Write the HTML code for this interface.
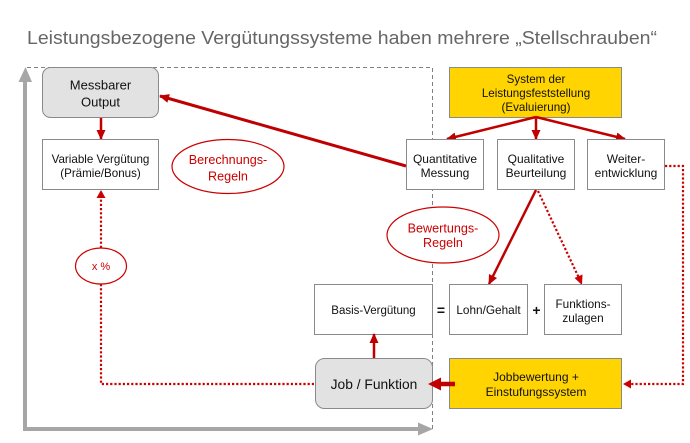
<!DOCTYPE html>
<html><head><meta charset="utf-8"><style>
html,body{margin:0;padding:0;background:#fff;}
svg{display:block;font-family:"Liberation Sans",Arial,sans-serif;}
</style></head><body>
<svg width="690" height="443" viewBox="0 0 690 443" xmlns="http://www.w3.org/2000/svg">
<defs>
<marker id="a" markerUnits="userSpaceOnUse" markerWidth="10" markerHeight="10" refX="9" refY="5" orient="auto"><path d="M0,0.5 L10,5 L0,9.5 z" fill="#c00000"/></marker>
</defs>
<rect width="690" height="443" fill="#fff"/>
<text x="27" y="44" font-size="18" fill="#666" textLength="630" lengthAdjust="spacingAndGlyphs">Leistungsbezogene Vergütungssysteme haben mehrere „Stellschrauben“</text>

<!-- dashed frame -->
<path d="M27,67.5 H432.5 V430" fill="none" stroke="#808080" stroke-width="1" stroke-dasharray="4 3"/>

<!-- axes -->
<line x1="25" y1="80" x2="25" y2="431" stroke="#a6a6a6" stroke-width="4"/>
<polygon points="18.5,82 25.5,67 32,82" fill="#a6a6a6"/>
<line x1="23" y1="429" x2="420" y2="429" stroke="#a6a6a6" stroke-width="4"/>
<polygon points="418,422.5 433,429 418,435.5" fill="#a6a6a6"/>

<!-- Messbarer Output -->
<rect x="42.5" y="67.5" width="116" height="50" rx="8" fill="#e1e2e1" stroke="#8a8a8a"/>
<text x="100.5" y="89.5" font-size="13" text-anchor="middle" fill="#111">Messbarer</text>
<text x="100.5" y="106.5" font-size="13" text-anchor="middle" fill="#111">Output</text>
<line x1="101" y1="118" x2="101" y2="139" stroke="#c00000" stroke-width="2.5" marker-end="url(#a)"/>

<!-- Variable Verguetung -->
<rect x="42.5" y="139.5" width="116" height="50" fill="#fff" stroke="#8a8a8a"/>
<text x="100.5" y="163" font-size="11.6" text-anchor="middle" fill="#111">Variable Vergütung</text>
<text x="100.5" y="177" font-size="11.6" text-anchor="middle" fill="#111">(Prämie/Bonus)</text>

<!-- Berechnungs-Regeln -->
<ellipse cx="228" cy="166.5" rx="56" ry="27" fill="#fff" stroke="#cc0000" stroke-width="1.2"/>
<text x="228" y="164" font-size="12.6" text-anchor="middle" fill="#cc0000">Berechnungs-</text>
<text x="228" y="180.5" font-size="12.6" text-anchor="middle" fill="#cc0000">Regeln</text>

<!-- dotted x% path -->
<path d="M101,248 V198" stroke="#cc0000" stroke-width="2.2" stroke-dasharray="2.2 2" fill="none"/>
<polygon points="96.5,198 101,190 105.5,198" fill="#cc0000"/>
<path d="M101,284 V384 H315" stroke="#cc0000" stroke-width="2.2" stroke-dasharray="2.2 2" fill="none"/>
<ellipse cx="101" cy="266" rx="25.5" ry="18" fill="#fff" stroke="#cc0000" stroke-width="1.2"/>
<text x="101" y="270" font-size="11" text-anchor="middle" fill="#cc0000">x %</text>

<!-- long arrow Quantitative -> Messbarer -->
<line x1="406" y1="166" x2="160" y2="96" stroke="#c00000" stroke-width="3" marker-end="url(#a)"/>

<!-- System der Leistungsfeststellung -->
<rect x="449.5" y="67.5" width="172" height="50" fill="#ffd400" stroke="#8a8a8a"/>
<text x="536" y="83" font-size="11.6" text-anchor="middle" fill="#111">System der</text>
<text x="536" y="97" font-size="11.6" text-anchor="middle" fill="#111">Leistungsfeststellung</text>
<text x="536" y="111" font-size="11.6" text-anchor="middle" fill="#111">(Evaluierung)</text>

<line x1="536" y1="117" x2="447" y2="139" stroke="#c00000" stroke-width="2.5" marker-end="url(#a)"/>
<line x1="536" y1="117" x2="536" y2="139" stroke="#c00000" stroke-width="2.5" marker-end="url(#a)"/>
<line x1="536" y1="117" x2="625" y2="139" stroke="#c00000" stroke-width="2.5" marker-end="url(#a)"/>

<!-- Quantitative / Qualitative / Weiter -->
<rect x="406.5" y="139.5" width="77" height="50" fill="#fff" stroke="#8a8a8a"/>
<text x="445" y="163" font-size="12" text-anchor="middle" fill="#111">Quantitative</text>
<text x="445" y="177" font-size="12" text-anchor="middle" fill="#111">Messung</text>

<rect x="497.5" y="139.5" width="77" height="50" fill="#fff" stroke="#8a8a8a"/>
<text x="536" y="163" font-size="12" text-anchor="middle" fill="#111">Qualitative</text>
<text x="536" y="177" font-size="12" text-anchor="middle" fill="#111">Beurteilung</text>

<rect x="587.5" y="139.5" width="77" height="50" fill="#fff" stroke="#8a8a8a"/>
<text x="626" y="163" font-size="12" text-anchor="middle" fill="#111">Weiter-</text>
<text x="626" y="177" font-size="12" text-anchor="middle" fill="#111">entwicklung</text>

<!-- Weiter dotted to Jobbewertung -->
<path d="M665,166 H683 V384 H631" stroke="#cc0000" stroke-width="2.2" stroke-dasharray="2.2 2" fill="none"/>
<polygon points="631,379.5 623,384 631,388.5" fill="#cc0000"/>

<!-- Bewertungs-Regeln -->
<ellipse cx="443" cy="235" rx="56" ry="28" fill="#fff" stroke="#cc0000" stroke-width="1.2"/>
<text x="443" y="232.5" font-size="12.6" text-anchor="middle" fill="#cc0000">Bewertungs-</text>
<text x="443" y="247" font-size="12.6" text-anchor="middle" fill="#cc0000">Regeln</text>

<!-- Qualitative -> Lohn / Funktionszulagen -->
<line x1="536" y1="190" x2="489" y2="284" stroke="#c00000" stroke-width="2.5" marker-end="url(#a)"/>
<path d="M538,191 L578.5,277" stroke="#cc0000" stroke-width="2.2" stroke-dasharray="2.2 2" fill="none"/>
<polygon points="574.5,278 582,285 582.5,274.5" fill="#cc0000"/>

<!-- Basis row -->
<rect x="314.5" y="284.5" width="118" height="50" fill="#fff" stroke="#8a8a8a"/>
<text x="373.5" y="314" font-size="11.5" text-anchor="middle" fill="#111">Basis-Vergütung</text>
<text x="441" y="315" font-size="14" font-weight="bold" text-anchor="middle" fill="#111">=</text>
<rect x="449.5" y="284.5" width="78" height="50" fill="#fff" stroke="#8a8a8a"/>
<text x="488.5" y="314" font-size="11.8" text-anchor="middle" fill="#111">Lohn/Gehalt</text>
<text x="536.5" y="315" font-size="14" font-weight="bold" text-anchor="middle" fill="#111">+</text>
<rect x="544.5" y="284.5" width="77" height="50" fill="#fff" stroke="#8a8a8a"/>
<text x="583" y="308" font-size="11.8" text-anchor="middle" fill="#111">Funktions-</text>
<text x="583" y="322" font-size="11.8" text-anchor="middle" fill="#111">zulagen</text>

<!-- Job / Funktion -->
<line x1="374" y1="358" x2="374" y2="334" stroke="#c00000" stroke-width="2.5" marker-end="url(#a)"/>
<rect x="315.5" y="358.5" width="117" height="50" rx="9" fill="#e1e2e1" stroke="#8a8a8a"/>
<text x="374" y="389" font-size="13.8" text-anchor="middle" fill="#111">Job / Funktion</text>

<!-- Jobbewertung -->
<rect x="449.5" y="358.5" width="172" height="50" fill="#ffd400" stroke="#8a8a8a"/>
<text x="536" y="381" font-size="12" text-anchor="middle" fill="#111">Jobbewertung +</text>
<text x="536" y="396" font-size="12" text-anchor="middle" fill="#111">Einstufungssystem</text>
<line x1="455" y1="384" x2="439" y2="384" stroke="#c00000" stroke-width="4.5"/>
<polygon points="441,377.5 428,384 441,390.5" fill="#c00000"/>
</svg>
</body></html>
